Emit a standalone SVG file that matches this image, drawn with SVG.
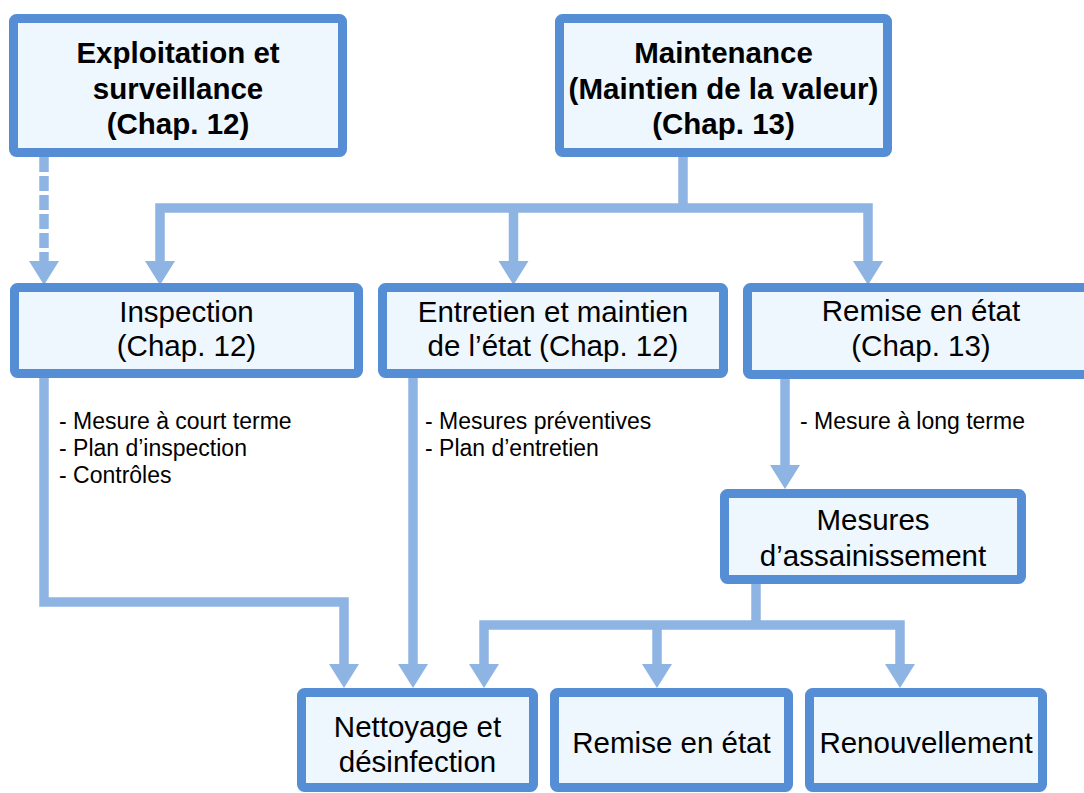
<svg xmlns="http://www.w3.org/2000/svg" width="1084" height="793" viewBox="0 0 1084 793">
<defs>
<style>
.box{fill:#EEF6FE;stroke:#558ED5;stroke-width:9}
.con{fill:none;stroke:#8EB4E3;stroke-width:9.5;stroke-linejoin:miter}
.dash{stroke-dasharray:15 4}
.ah{fill:#8EB4E3}
text{font-family:"Liberation Sans",Arial,sans-serif;fill:#000;text-anchor:middle}
.b{font-weight:bold;font-size:29.5px}
.n{font-size:29.5px}
.s{font-size:23px;text-anchor:start}
</style>
<path id="ah" d="M0 0 L-15 -24 L15 -24 Z"/>
</defs>
<rect width="1084" height="793" fill="#FFFFFF"/>
<g id="connectors">
<path class="con dash" d="M44 157 V262"/>
<path class="con" d="M683 157 V208"/>
<path class="con" d="M160 262 V208 H868 V262"/>
<path class="con" d="M513.5 208 V262"/>
<path class="con" d="M44 378 V602 H344 V665"/>
<path class="con" d="M413 378 V665"/>
<path class="con" d="M785 379 V466"/>
<path class="con" d="M756 584 V625"/>
<path class="con" d="M484 665 V625 H900 V665"/>
<path class="con" d="M657 625 V665"/>
<use href="#ah" class="ah" x="44" y="285"/>
<use href="#ah" class="ah" x="160" y="285"/>
<use href="#ah" class="ah" x="513.5" y="285"/>
<use href="#ah" class="ah" x="868" y="285"/>
<use href="#ah" class="ah" x="344" y="688"/>
<use href="#ah" class="ah" x="413" y="688"/>
<use href="#ah" class="ah" x="785" y="489"/>
<use href="#ah" class="ah" x="484" y="688"/>
<use href="#ah" class="ah" x="657" y="688"/>
<use href="#ah" class="ah" x="900" y="688"/>
</g>
<g id="exploitation">
<rect class="box" x="13.5" y="18.5" width="329" height="134" rx="3"/>
<text class="b" x="178" y="63">Exploitation et</text>
<text class="b" x="178" y="99">surveillance</text>
<text class="b" x="178" y="134">(Chap. 12)</text>
</g>
<g id="maintenance">
<rect class="box" x="559.5" y="18.5" width="328" height="134" rx="3"/>
<text class="b" x="723.5" y="63">Maintenance</text>
<text class="b" x="723.5" y="99">(Maintien de la valeur)</text>
<text class="b" x="723.5" y="134">(Chap. 13)</text>
</g>
<g id="inspection">
<rect class="box" x="14.5" y="287.5" width="344" height="86" rx="3"/>
<text class="n" x="186.5" y="322">Inspection</text>
<text class="n" x="186.5" y="356">(Chap. 12)</text>
</g>
<g id="entretien">
<rect class="box" x="382.5" y="287.5" width="341" height="86" rx="3"/>
<text class="n" x="553" y="322">Entretien et maintien</text>
<text class="n" x="553" y="356">de l’état (Chap. 12)</text>
</g>
<g id="remise13">
<rect class="box" x="747.5" y="287.5" width="347" height="87" rx="3"/>
<text class="n" x="921" y="321">Remise en état</text>
<text class="n" x="921" y="356">(Chap. 13)</text>
</g>
<g id="notes-inspection">
<text class="s" x="59" y="429">- Mesure à court terme</text>
<text class="s" x="59" y="456">- Plan d’inspection</text>
<text class="s" x="59" y="483">- Contrôles</text>
</g>
<g id="notes-entretien">
<text class="s" x="425" y="429">- Mesures préventives</text>
<text class="s" x="425" y="456">- Plan d’entretien</text>
</g>
<g id="notes-remise">
<text class="s" x="800" y="429">- Mesure à long terme</text>
</g>
<g id="assainissement">
<rect class="box" x="724.5" y="493.5" width="297" height="86" rx="3"/>
<text class="n" x="873" y="530">Mesures</text>
<text class="n" x="873" y="566">d’assainissement</text>
</g>
<g id="nettoyage">
<rect class="box" x="301.5" y="692.5" width="232" height="95" rx="3"/>
<text class="n" x="417.5" y="737">Nettoyage et</text>
<text class="n" x="417.5" y="772">désinfection</text>
</g>
<g id="remise">
<rect class="box" x="554.5" y="692.5" width="234" height="95" rx="3"/>
<text class="n" x="671.5" y="753">Remise en état</text>
</g>
<g id="renouvellement">
<rect class="box" x="809.5" y="692.5" width="233" height="95" rx="3"/>
<text class="n" x="926" y="753">Renouvellement</text>
</g>
</svg>
